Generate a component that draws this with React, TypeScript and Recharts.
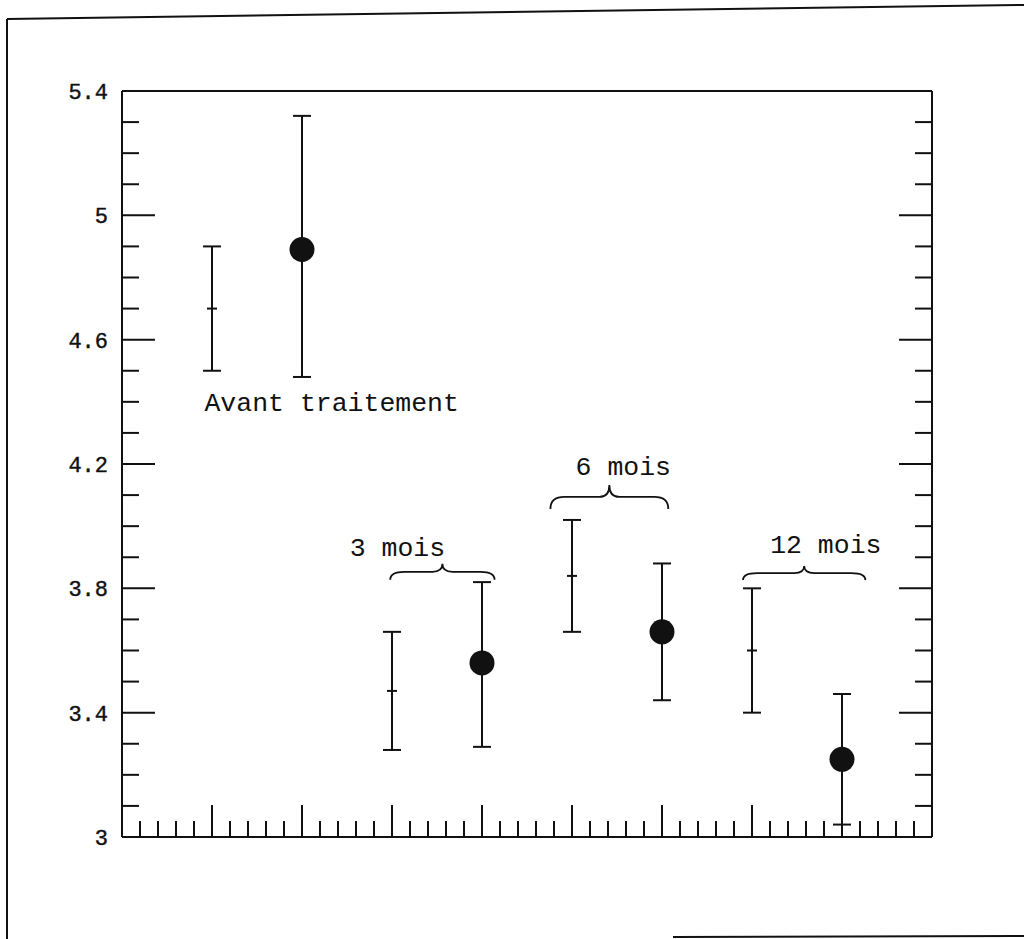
import { ComposedChart, Scatter, ErrorBar, XAxis, YAxis, ReferenceLine, ReferenceDot } from 'recharts';

// groups: reference interval (left of each pair) and measured value (right, black dot)
const groups = ['Avant traitement', '3 mois', '6 mois', '12 mois'];

const refX = [1, 3, 5, 7];
const refMean = [4.7, 3.47, 3.84, 3.6];
const refSd = [0.2, 0.19, 0.18, 0.2];

const obsX = [2, 4, 6, 8];
const obsMean = [4.89, 3.56, 3.66, 3.25];
const obsLow = [4.48, 3.29, 3.44, 3.04];
const obsHigh = [5.32, 3.82, 3.88, 3.46];

const yLabels = [3, 3.4, 3.8, 4.2, 4.6, 5, 5.4];
const yTicks = [
  3, 3.1, 3.2, 3.3, 3.4, 3.5, 3.6, 3.7, 3.8, 3.9, 4, 4.1, 4.2,
  4.3, 4.4, 4.5, 4.6, 4.7, 4.8, 4.9, 5, 5.1, 5.2, 5.3, 5.4,
];
const xTicks = Array.from({ length: 44 }, (_, i) => (i + 1) / 5);

// annotation anchors (data units)
const braces = [
  { x1: 2.98, x2: 4.14, y: 3.853, h: 8 },
  { x1: 4.76, x2: 6.07, y: 4.094, h: 12 },
  { x1: 6.9, x2: 8.26, y: 3.849, h: 7 },
];
const labelPos = [
  { x: 2.33, y: 4.371 },
  { x: 3.06, y: 3.904 },
  { x: 5.57, y: 4.165 },
  { x: 7.82, y: 3.914 },
];

const refData = refX.map((x, i) => ({ x, y: refMean[i], err: [refSd[i], refSd[i]] }));
const obsData = obsX.map((x, i) => ({
  x,
  y: obsMean[i],
  err: [obsMean[i] - obsLow[i], obsHigh[i] - obsMean[i]],
}));

const INK = '#111';
const MONO = '"Liberation Mono", "DejaVu Sans Mono", monospace';

const isYMajor = (v: number) => yLabels.some((l) => Math.abs(l - v) < 1e-6);
const isXMajor = (v: number) => Math.abs(v - Math.round(v)) < 1e-6;

const LeftTick = ({ x, y, payload }: any) => {
  const major = isYMajor(payload.value);
  return (
    <g>
      <line x1={x} x2={x + (major ? 33 : 17)} y1={y} y2={y} stroke={INK} strokeWidth={2} />
      {major && (
        <text
          x={x - 14}
          y={y}
          dy="0.36em"
          textAnchor="end"
          fontFamily={MONO}
          fontSize={22}
          fill={INK}
          stroke={INK}
          strokeWidth={0.4}
        >
          {String(payload.value)}
        </text>
      )}
    </g>
  );
};

const RightTick = ({ x, y, payload }: any) => (
  <line x1={x} x2={x - (isYMajor(payload.value) ? 33 : 17)} y1={y} y2={y} stroke={INK} strokeWidth={2} />
);

const BottomTick = ({ x, y, payload }: any) => (
  <line x1={x} x2={x} y1={y} y2={y - (isXMajor(payload.value) ? 32 : 16)} stroke={INK} strokeWidth={2} />
);

const TopTick = ({ x, y, payload }: any) => (
  <line x1={x} x2={x} y1={y} y2={y + (isXMajor(payload.value) ? 31 : 15)} stroke={INK} strokeWidth={2} />
);

const braceShape = (h: number) => (p: any) => {
  const { x1, x2, y1 } = p;
  const m = (x1 + x2) / 2;
  const d =
    `M${x1},${y1 + h} Q${x1},${y1} ${x1 + 14},${y1} L${m - 10},${y1} ` +
    `Q${m},${y1} ${m},${y1 - h} Q${m},${y1} ${m + 10},${y1} ` +
    `L${x2 - 14},${y1} Q${x2},${y1} ${x2},${y1 + h}`;
  return <path d={d} fill="none" stroke={INK} strokeWidth={1.8} />;
};

export default function App() {
  return (
    <div style={{ position: 'absolute', left: 0, top: 0, width: 1024, height: 939, background: '#fff' }}>
      <svg width={1024} height={939} style={{ position: 'absolute', left: 0, top: 0 }}>
        <line x1={7} y1={19} x2={1024} y2={5} stroke={INK} strokeWidth={2} />
        <line x1={7} y1={19} x2={7} y2={939} stroke={INK} strokeWidth={2} />
        <line x1={673} y1={937} x2={1024} y2={936} stroke={INK} strokeWidth={2} />
      </svg>
      <div style={{ position: 'absolute', left: 0, top: 0 }}>
        <ComposedChart width={1024} height={939} margin={{ top: 71, right: 72, bottom: 72, left: 62 }}>
          <XAxis
            xAxisId={0}
            dataKey="x"
            type="number"
            domain={[0, 9]}
            allowDataOverflow
            ticks={xTicks}
            interval={0}
            height={30}
            tickSize={0}
            tickMargin={0}
            tickLine={false}
            tick={BottomTick}
            axisLine={{ stroke: INK, strokeWidth: 2 }}
          />
          <XAxis
            xAxisId="top"
            orientation="top"
            type="number"
            domain={[0, 9]}
            allowDataOverflow
            ticks={xTicks}
            interval={0}
            height={20}
            tickSize={0}
            tickMargin={0}
            tickLine={false}
            tick={TopTick}
            axisLine={{ stroke: INK, strokeWidth: 2 }}
          />
          <YAxis
            yAxisId={0}
            dataKey="y"
            type="number"
            domain={[3, 5.4]}
            allowDataOverflow
            ticks={yTicks}
            interval={0}
            width={60}
            tickSize={0}
            tickMargin={0}
            tickLine={false}
            tick={LeftTick}
            axisLine={{ stroke: INK, strokeWidth: 2 }}
          />
          <YAxis
            yAxisId="right"
            orientation="right"
            type="number"
            domain={[3, 5.4]}
            allowDataOverflow
            ticks={yTicks}
            interval={0}
            width={20}
            tickSize={0}
            tickMargin={0}
            tickLine={false}
            tick={RightTick}
            axisLine={{ stroke: INK, strokeWidth: 2 }}
          />

          {braces.map((b, i) => (
            <ReferenceLine
              key={`b${i}`}
              segment={[{ x: b.x1, y: b.y }, { x: b.x2, y: b.y }]}
              ifOverflow="visible"
              shape={braceShape(b.h)}
            />
          ))}
          {labelPos.map((p, i) => (
            <ReferenceDot
              key={`l${i}`}
              x={p.x}
              y={p.y}
              ifOverflow="visible"
              shape={(s: any) => (
                <text x={s.cx} y={s.cy} textAnchor="middle" fontFamily={MONO} fontSize={26.5} fill={INK}>
                  {groups[i]}
                </text>
              )}
            />
          ))}

          <Scatter
            data={refData}
            isAnimationActive={false}
            shape={(s: any) => (
              <line x1={s.cx - 5} x2={s.cx + 5} y1={s.cy} y2={s.cy} stroke={INK} strokeWidth={2} />
            )}
          >
            <ErrorBar dataKey="err" direction="y" width={9} stroke={INK} strokeWidth={2} isAnimationActive={false} />
          </Scatter>
          <Scatter
            data={obsData}
            isAnimationActive={false}
            shape={(s: any) => <circle cx={s.cx} cy={s.cy} r={12.5} fill={INK} />}
          >
            <ErrorBar dataKey="err" direction="y" width={9} stroke={INK} strokeWidth={2} isAnimationActive={false} />
          </Scatter>
        </ComposedChart>
      </div>
    </div>
  );
}
